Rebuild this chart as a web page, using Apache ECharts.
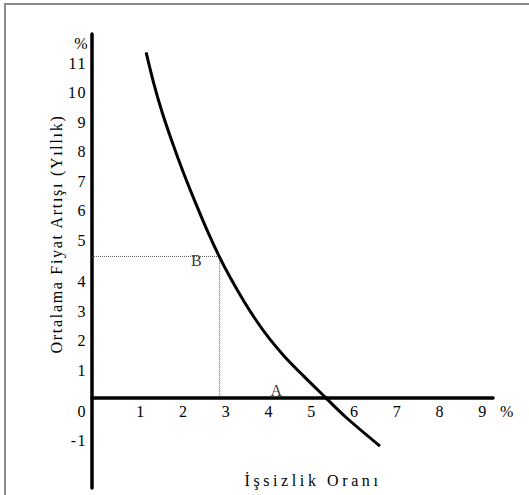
<!DOCTYPE html>
<html>
<head>
<meta charset="utf-8">
<script src="https://cdn.jsdelivr.net/npm/echarts@6/dist/echarts.min.js"></script>
<style>
html,body{margin:0;padding:0;background:#fff;}
#chart{width:529px;height:495px;}
#chart svg text{letter-spacing:1.5px;}
</style>
</head>
<body>
<div id="chart"></div>
<script>
// Phillips curve
var curveX = [1.12, 1.30, 1.50, 1.75, 2.00, 2.30, 2.60, 2.82, 3.10, 3.40, 3.70, 4.00, 4.35, 4.80, 5.30, 5.80, 6.59];
var curveY = [11.70, 10.64, 9.64, 8.57, 7.59, 6.51, 5.49, 4.81, 4.03, 3.28, 2.60, 2.00, 1.40, 0.73, 0.02, -0.68, -1.65];
var pointB = [2.84, 4.78];
var labelNames = ['B', 'A'];
var labelX = [2.31, 4.18];
var labelY = [4.63, 0.25];

var xTicks = [1, 2, 3, 4, 5, 6, 7, 8, 9];
var yTicksLow = [1, 2, 3, 4];
var yTicksHigh = [5, 6, 7, 8, 9, 10, 11];
var yTicksNeg = [-1, 0];
var yUnitTick = [12];
var unitLabel = '%';
var xTitle = 'İşsizlik Oranı';
var yTitle = 'Ortalama Fiyat Artışı (Yıllık)';

var xMin = -0.146, xMax = 9.234;
var yMin = -3.07, yMax = 12.32;
var pxPerY = 29.5;
var gridBottomY = 488;

var FONT = 'Liberation Serif';
var TXT = '#000';

var curveData = curveX.map(function (x, i) { return [x, curveY[i]]; });
var guideData = [[xMin, pointB[1]], [pointB[0], pointB[1]], [pointB[0], 0]];
var letterData = labelNames.map(function (n, i) { return [labelX[i], labelY[i], n]; });

function labelAxis(shiftPx, ticks) {
  var d = shiftPx / pxPerY;
  return {
    type: 'value', position: 'left', offset: 0,
    min: yMin + d, max: yMax + d,
    axisLine: { show: false, onZero: false },
    axisTick: { show: false },
    splitLine: { show: false },
    axisLabel: { customValues: ticks, margin: 5, fontFamily: FONT, fontSize: 16, color: TXT }
  };
}

var chart = echarts.init(document.getElementById('chart'), null, { renderer: 'svg' });
chart.setOption({
  animation: false,
  backgroundColor: '#fff',
  grid: { left: 92, right: 36, top: 34, bottom: 7, containLabel: false, outerBoundsMode: 'none' },
  xAxis: [
    {
      type: 'value', min: xMin, max: xMax,
      axisLine: { onZero: true, onZeroAxisIndex: 0, lineStyle: { color: '#000', width: 3.5 } },
      axisTick: { show: false },
      splitLine: { show: false },
      axisLabel: { show: false },
      name: unitLabel, nameLocation: 'end', nameGap: 7,
      nameTextStyle: { fontFamily: FONT, fontSize: 16, color: TXT, align: 'left', verticalAlign: 'top', padding: [6, 0, 0, 0] }
    },
    {
      type: 'value', min: xMin, max: xMax, position: 'bottom',
      offset: -(gridBottomY - 397.5),
      axisLine: { show: false, onZero: false },
      axisTick: { show: false },
      splitLine: { show: false },
      axisLabel: { customValues: xTicks, margin: 6, fontFamily: FONT, fontSize: 16, color: TXT }
    }
  ],
  yAxis: [
    {
      type: 'value', position: 'left', min: yMin, max: yMax,
      axisLine: { show: true, onZero: false, lineStyle: { color: '#000', width: 3.5 } },
      axisTick: { show: false },
      splitLine: { show: false },
      axisLabel: { customValues: yUnitTick, formatter: function () { return unitLabel; }, margin: 3, fontFamily: FONT, fontSize: 16, color: TXT }
    },
    labelAxis(2.5, yTicksLow),
    labelAxis(-9.5, yTicksHigh),
    labelAxis(14, yTicksNeg)
  ],
  graphic: [
    { type: 'polyline', shape: { points: [[5, 495], [5, 4], [529, 4]] }, style: { stroke: '#8a8a8a', lineWidth: 2, fill: null } },
    { type: 'text', x: 313, y: 480, style: { text: xTitle, font: '16px "Liberation Serif"', fill: TXT, align: 'center', verticalAlign: 'middle' } },
    { type: 'text', x: 56, y: 234, rotation: Math.PI / 2, style: { text: yTitle, font: '16px "Liberation Serif"', fill: TXT, align: 'center', verticalAlign: 'middle' } }
  ],
  series: [
    {
      type: 'line', xAxisIndex: 0, yAxisIndex: 0, data: guideData, symbol: 'none', silent: true,
      lineStyle: { color: '#555', width: 1, type: 'dotted' }
    },
    {
      type: 'line', xAxisIndex: 0, yAxisIndex: 0, data: curveData, symbol: 'none', smooth: 0.3,
      lineStyle: { color: '#000', width: 3 }
    },
    {
      type: 'scatter', xAxisIndex: 0, yAxisIndex: 0, data: letterData, symbolSize: 0,
      label: { show: true, position: 'inside', formatter: function (p) { return p.data[2]; }, fontFamily: FONT, fontSize: 16, color: TXT }
    }
  ]
});

function spaceTitles() {
  var nodes = document.querySelectorAll('#chart svg text');
  for (var i = 0; i < nodes.length; i++) {
    if (nodes[i].textContent === xTitle) nodes[i].style.letterSpacing = '3.6px';
    if (nodes[i].textContent === yTitle) nodes[i].style.letterSpacing = '1.7px';
  }
}
spaceTitles();
chart.on('finished', spaceTitles);
</script>
</body>
</html>
